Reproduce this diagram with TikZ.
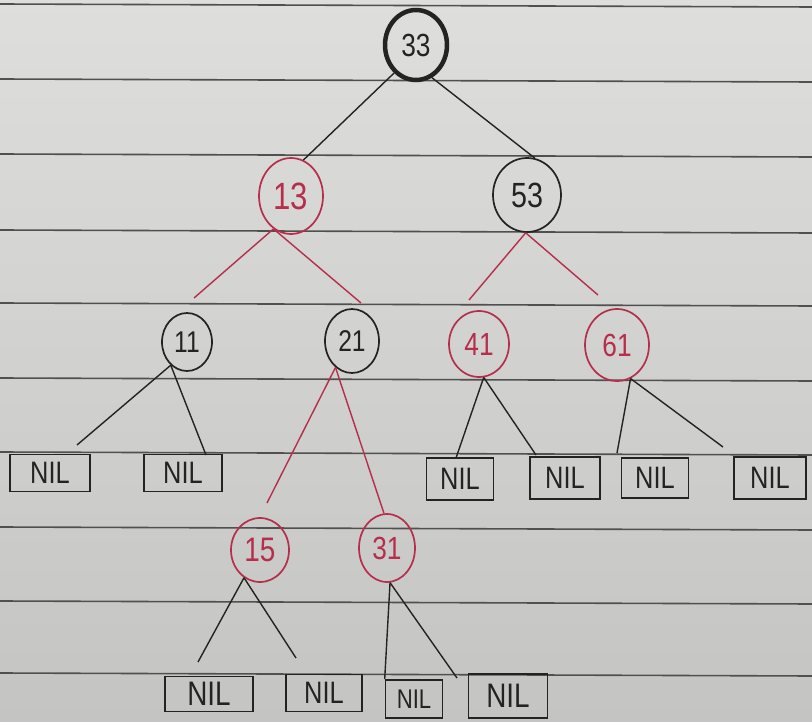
\documentclass[tikz,border=0pt]{standalone}
\usepackage{fontspec}
\setmainfont{Liberation Sans}
\newfontfamily\hand[FakeStretch=0.82]{Liberation Sans}
\usetikzlibrary{shapes.geometric}
\definecolor{ink}{RGB}{35,35,35}
\definecolor{redink}{RGB}{182,46,74}
\definecolor{ruleink}{RGB}{80,80,80}
\definecolor{paperA}{RGB}{222,222,220}
\definecolor{paperB}{RGB}{196,196,194}
\tikzset{
  rbnode/.style={ellipse, inner sep=0pt, line width=1.7pt, font=\hand\fontsize{30}{30}\selectfont},
  blk/.style={rbnode, draw=ink, text=ink},
  rd/.style={rbnode, draw=redink, text=redink},
  nilbox/.style={rectangle, draw=ink, line width=1.6pt, inner sep=0pt, text=ink, font=\hand\fontsize{31}{31}\selectfont},
  edgeb/.style={draw=ink, line width=1.4pt},
  edger/.style={draw=redink, line width=1.4pt},
  ruleline/.style={draw=ruleink, line width=1.6pt}
}
\begin{document}
\begin{tikzpicture}[x=1pt,y=-1pt]
\shade[top color=paperA, bottom color=paperB] (0,0) rectangle (812,722);
\useasboundingbox (0,0) rectangle (812,722);
\foreach \yy in {4,79,154,230,303,378,452,527,601,673}
  \draw[ruleline] (0,\yy) -- (812,\yy+3);

% tree nodes
\node[blk, line width=4.5pt, minimum width=62pt, minimum height=70pt, font=\hand\fontsize{32}{32}\selectfont] (n33) at (416,45) {33};
\node[rd, minimum width=64pt, minimum height=76pt, font=\hand\fontsize{38}{38}\selectfont] (n13) at (291,196) {13};
\node[blk, minimum width=68pt, minimum height=74pt, font=\hand\fontsize{35}{35}\selectfont] (n53) at (527,195) {53};
\node[blk, minimum width=50pt, minimum height=58pt] (n11) at (187,342) {11};
\node[blk, minimum width=54pt, minimum height=64pt] (n21) at (352,341) {21};
\node[rd, minimum width=60pt, minimum height=66pt, font=\hand\fontsize{32}{32}\selectfont] (n41) at (479,344) {41};
\node[rd, minimum width=64pt, minimum height=72pt, font=\hand\fontsize{32}{32}\selectfont] (n61) at (617,345) {61};
\node[rd, minimum width=58pt, minimum height=64pt, font=\hand\fontsize{34}{34}\selectfont] (n15) at (260,550) {15};
\node[rd, minimum width=56pt, minimum height=68pt, font=\hand\fontsize{32}{32}\selectfont] (n31) at (387,548) {31};

% NIL leaves
\node[nilbox, minimum width=80pt, minimum height=37pt] (nil1) at (50,473) {NIL};
\node[nilbox, minimum width=78pt, minimum height=37pt] (nil2) at (183,473) {NIL};
\node[nilbox, minimum width=67pt, minimum height=42pt] (nil3) at (460,479) {NIL};
\node[nilbox, minimum width=70pt, minimum height=42pt] (nil4) at (565,478) {NIL};
\node[nilbox, minimum width=67pt, minimum height=40pt] (nil5) at (655,478) {NIL};
\node[nilbox, minimum width=72pt, minimum height=42pt] (nil6) at (770,478) {NIL};
\node[nilbox, minimum width=88pt, minimum height=35pt, font=\hand\fontsize{34}{34}\selectfont] (nil7) at (209,694) {NIL};
\node[nilbox, minimum width=76pt, minimum height=37pt] (nil8) at (324,693) {NIL};
\node[nilbox, minimum width=57pt, minimum height=38pt, font=\hand\fontsize{27}{27}\selectfont] (nil9) at (414,699) {NIL};
\node[nilbox, minimum width=79pt, minimum height=44pt, font=\hand\fontsize{34}{34}\selectfont] (nil10) at (508,696) {NIL};

% free ends of connectors
\coordinate (e13a) at (194,298);
\coordinate (e13b) at (361,303);
\coordinate (e53a) at (469,300);
\coordinate (e53b) at (598,295);
\coordinate (e11a) at (77,445);
\coordinate (e11b) at (206,455);
\coordinate (e21a) at (267,503);
\coordinate (e41a) at (456,458);
\coordinate (e41b) at (536,455);
\coordinate (e61a) at (617,453);
\coordinate (e61b) at (723,447);
\coordinate (e15a) at (198,662);
\coordinate (e15b) at (296,658);
\coordinate (e31b) at (457,678);

% connectors
\draw[edgeb] (n33.232) -- (n13.71);
\draw[edgeb] (n33.296) -- (n53.78);
\draw[edger] (n13.242) -- (e13a);
\draw[edger] (n13.242) -- (e13b);
\draw[edger] (n53.268) -- (e53a);
\draw[edger] (n53.268) -- (e53b);
\draw[edgeb] (n11.235) -- (e11a);
\draw[edgeb] (n11.235) -- (e11b);
\draw[edger] (n21.238) -- (e21a);
\draw[edger] (n21.238) -- (n31.95);
\draw[edgeb] (n41.278) -- (e41a);
\draw[edgeb] (n41.278) -- (e41b);
\draw[edgeb] (n61.292) -- (e61a);
\draw[edgeb] (n61.292) -- (e61b);
\draw[edgeb] (n15.240) -- (e15a);
\draw[edgeb] (n15.240) -- (e15b);
\draw[edgeb] (n31.275) -- (nil9.north west);
\draw[edgeb] (n31.275) -- (e31b);
\end{tikzpicture}
\end{document}
